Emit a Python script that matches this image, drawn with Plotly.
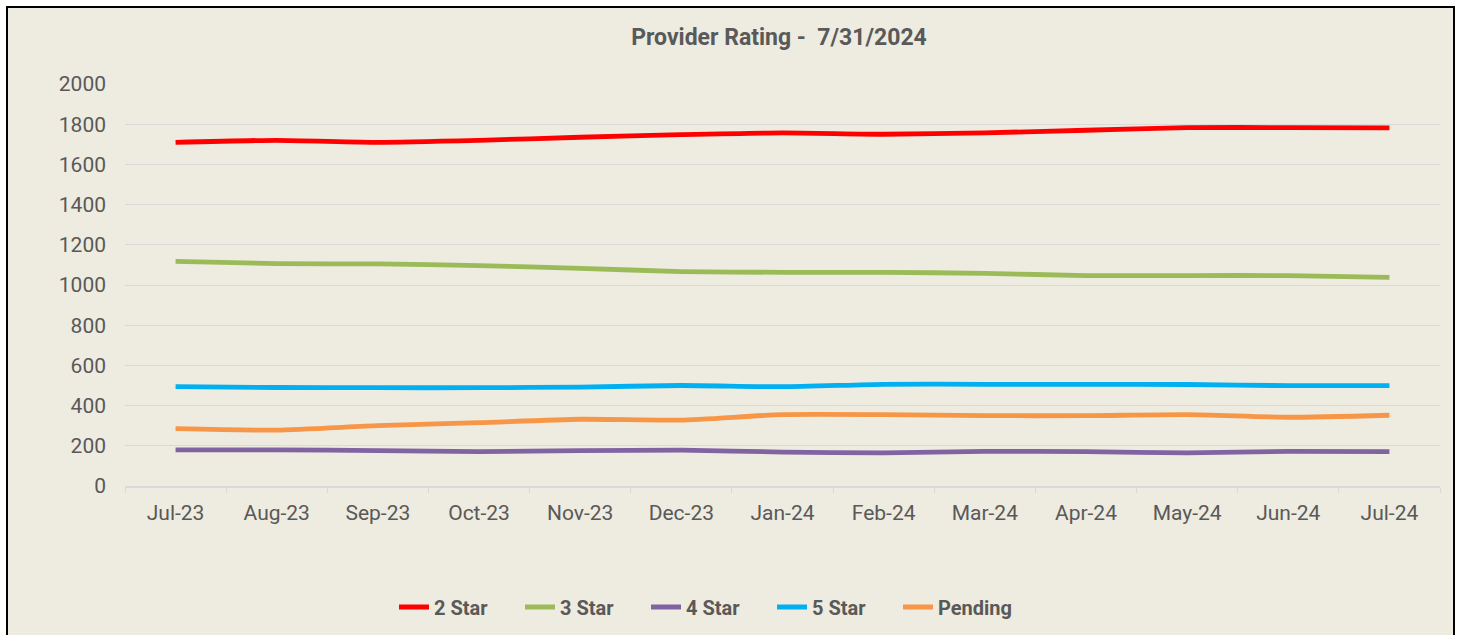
import plotly.graph_objects as go

months = ["Jul-23", "Aug-23", "Sep-23", "Oct-23", "Nov-23", "Dec-23", "Jan-24",
          "Feb-24", "Mar-24", "Apr-24", "May-24", "Jun-24", "Jul-24"]
star2 = [1710, 1720, 1710, 1720, 1735, 1748, 1757, 1750, 1757, 1770, 1783, 1783, 1782]
star3 = [1118, 1106, 1105, 1096, 1083, 1067, 1063, 1063, 1058, 1047, 1047, 1047, 1038]
star4 = [180, 180, 176, 171, 176, 178, 169, 165, 172, 171, 165, 172, 171]
star5 = [494, 490, 489, 489, 492, 500, 494, 506, 506, 506, 505, 499, 499]
pending = [285, 278, 300, 315, 332, 328, 355, 355, 350, 350, 355, 342, 352]

series = [("2 Star", star2, "#FF0000"), ("3 Star", star3, "#9BBB59"),
          ("4 Star", star4, "#8064A2"), ("5 Star", star5, "#00B0F0"),
          ("Pending", pending, "#F79646")]

BG = "#EEEBE0"
W, H = 1461, 635
L, R, T, B = 125, 21, 84, 149
pw, ph = W - L - R, H - T - B

fig = go.Figure()
for name, vals, col in series:
    fig.add_trace(go.Scatter(x=months, y=vals, name="<b>" + name + "</b>", mode="lines",
                             line=dict(color=col, width=4.8, shape="spline", smoothing=0.6)))

def px_x(p):
    return (p - L) / pw

def px_y(p):
    return (H - B - p) / ph

fig.update_layout(
    width=W, height=H,
    margin=dict(l=L, r=R, t=T, b=B, autoexpand=False),
    paper_bgcolor="white",
    plot_bgcolor=BG,
    font=dict(family="Roboto", color="#595959"),
    title=dict(text="<b>Provider Rating -  7/31/2024</b>", x=px_x(779), xref="paper",
               xanchor="center", y=1 - 37 / H, yanchor="middle",
               font=dict(size=23, color="#595959", family="Roboto")),
    shapes=[dict(type="rect", xref="paper", yref="paper",
                 x0=px_x(7), x1=px_x(1454), y0=px_y(650), y1=px_y(7),
                 fillcolor=BG, line=dict(color="black", width=2), layer="below")],
    legend=dict(orientation="h", x=px_x(394), xanchor="left", y=px_y(607), yanchor="middle",
                font=dict(size=20, color="#595959", family="Roboto"),
                entrywidth=81, entrywidthmode="pixels", bgcolor="rgba(0,0,0,0)",
                itemclick=False),
    xaxis=dict(range=[-0.5, 12.5], showgrid=False, showline=True, linecolor="#D9D9D9",
               linewidth=1.5, ticks="outside", tickson="boundaries", ticklen=5,
               tickcolor="#D9D9D9", tickfont=dict(size=21, color="#595959"),
               ticklabelstandoff=7),
    yaxis=dict(range=[0, 2000], dtick=200, showgrid=True, gridcolor="#D9D9D9", gridwidth=1.2,
               zeroline=False, showline=False, ticks="",
               tickfont=dict(size=21, color="#595959"), ticklabelstandoff=18),
)

fig.write_html("out.html", config={"displayModeBar": False},
               post_script="document.body.style.margin='0px';window.dispatchEvent(new Event('resize'));")
